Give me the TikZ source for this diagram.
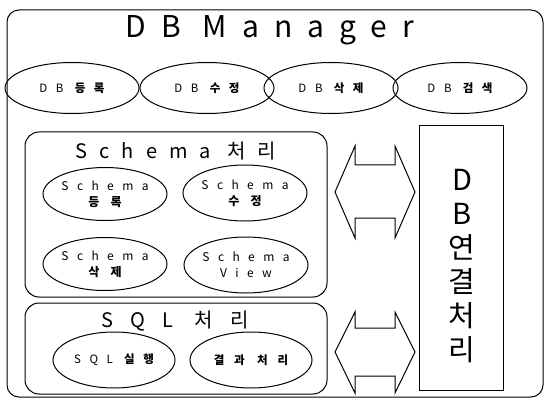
\documentclass[tikz,border=0pt]{standalone}
\usepackage{fontspec}
\setmainfont{Noto Sans CJK KR}
\newfontfamily\titlefont[LetterSpace=50]{Noto Sans CJK KR}
\newfontfamily\headfont[LetterSpace=60]{Noto Sans CJK KR}
\newfontfamily\sqlfont[LetterSpace=85]{Noto Sans CJK KR}
\newfontfamily\ovalfont[LetterSpace=75]{Noto Sans CJK KR}
\newfontfamily\schfont[LetterSpace=70]{Noto Sans CJK KR}
\newfontfamily\widefont[LetterSpace=85]{Noto Sans CJK KR}
\newfontfamily\vertfont{Noto Sans CJK KR}
\newcommand{\kb}[1]{{\bfseries #1}}
\usetikzlibrary{shapes.geometric}
\tikzset{
  frame/.style={draw, line width=1pt, rounded corners=12pt},
  group/.style={draw, line width=1pt, rounded corners=14pt},
  oval/.style={draw, ellipse, line width=1pt, inner sep=0pt, align=center},
  rowoval/.style={oval, minimum width=134pt, minimum height=51pt, font=\ovalfont\fontsize{11.5}{13}\selectfont},
  schoval/.style={oval, minimum width=124pt, minimum height=53pt, font=\schfont\fontsize{12}{16}\selectfont},
  sqloval/.style={oval, minimum width=122pt, minimum height=56pt, font=\ovalfont\fontsize{11.5}{13}\selectfont},
  bigarrow/.style={draw, line width=1pt, fill=white},
  label/.style={inner sep=0pt, anchor=center}
}
\begin{document}
\begin{tikzpicture}[x=1pt,y=-1pt]
\useasboundingbox (0,0) rectangle (549,401);
% outer frame
\draw[frame] (7,10) rectangle (543,397);
\node[label, font=\titlefont\fontsize{30}{30}\selectfont] (title) at (270,30) {DB Manager};
% DB row
\node[rowoval] (e1) at (72,88) {DB \kb{등록}};
\node[rowoval] (e2) at (207,88) {DB \kb{수정}};
\node[rowoval] (e3) at (331,88) {DB \kb{삭제}};
\node[rowoval] (e4) at (460,88) {DB \kb{검색}};
% Schema group
\draw[group] (25,132) rectangle (327,297);
\node[label, font=\headfont\fontsize{20}{20}\selectfont] (schtitle) at (176,151) {Schema 처리};
\node[schoval] (s1) at (105,194) {Schema\\\kb{등 록}};
\node[schoval, minimum height=56pt] (s2) at (245,193) {Schema\\\kb{수 정}};
\node[schoval] (s3) at (105,264) {Schema\\\kb{삭 제}};
\node[schoval, minimum height=56pt] (s4) at (246,265) {Schema\\View};
% SQL group
\draw[group] (25,303) rectangle (327,394);
\node[label, font=\sqlfont\fontsize{20}{20}\selectfont] (sqltitle) at (175,321) {SQL 처리};
\node[sqloval] (q1) at (114,360) {SQL \kb{실행}};
\node[sqloval, font=\widefont\fontsize{11.5}{13}\selectfont] (q2) at (251,360) {\kb{결과 처리}};
% DB connection box
\draw[line width=1pt] (419,126) rectangle (503,390);
\node[label, align=center, font=\vertfont\fontsize{29}{34}\selectfont] (conn) at (462,266) {D\\B\\연\\결\\처\\리};
% double arrows
\draw[bigarrow] (335,192) -- (355,146) -- (355,165) -- (395,165) -- (395,146) -- (415,192)
  -- (395,238) -- (395,218) -- (355,218) -- (355,238) -- cycle;
\draw[bigarrow] (335,352) -- (355,312) -- (355,328) -- (395,328) -- (395,312) -- (415,352)
  -- (395,393) -- (395,376) -- (355,376) -- (355,393) -- cycle;
\end{tikzpicture}
\end{document}
